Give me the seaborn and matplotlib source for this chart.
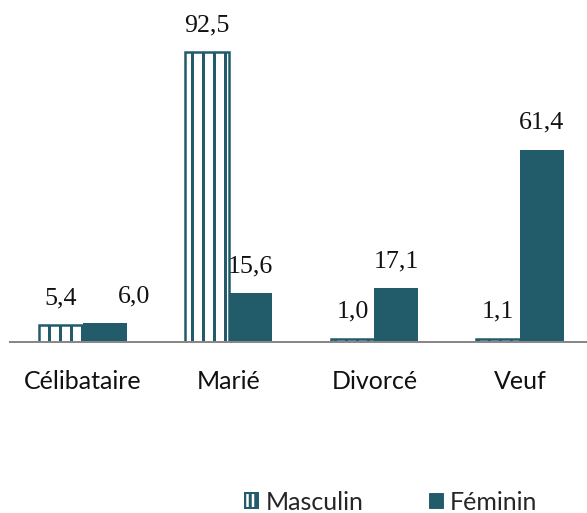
import seaborn as sns
import pandas as pd
import matplotlib.pyplot as plt
from matplotlib.patches import Patch

categories = ['Célibataire', 'Marié', 'Divorcé', 'Veuf']
masculin = [5.4, 92.5, 1.0, 1.1]
feminin = [6.0, 15.6, 17.1, 61.4]
series = ['Masculin', 'Féminin']

DPI = 66
def pt(px):
    return px * 72 / DPI

teal = '#225B69'
data = pd.DataFrame({
    'Statut': categories * 2,
    'Sexe': ['Masculin'] * 4 + ['Féminin'] * 4,
    'Valeur': masculin + feminin,
})

sns.set_style('white')
plt.rcParams['hatch.color'] = teal
plt.rcParams['hatch.linewidth'] = pt(3)

fig = plt.figure(figsize=(587 / DPI, 513 / DPI), dpi=DPI)
ax = fig.add_axes([10 / 587, 171 / 513, 583 / 587, 313 / 513])

sns.barplot(data=data, x='Statut', y='Valeur', hue='Sexe', hue_order=series,
            palette={'Masculin': 'white', 'Féminin': teal}, width=0.6,
            saturation=1, dodge=True, legend=False, ax=ax)

for bar in ax.containers[0]:
    bar.set_hatch('|')
    bar.set_edgecolor(teal)
    bar.set_linewidth(pt(2.5))
for bar in ax.containers[1]:
    bar.set_edgecolor(teal)
    bar.set_linewidth(0)

# petits décalages des étiquettes (comme dans Excel)
nudge = {(1, 0): 29}
for si, cont in enumerate(ax.containers):
    for ci, bar in enumerate(cont):
        v = bar.get_height()
        ax.annotate(f'{v:.1f}'.replace('.', ','),
                    (bar.get_x() + bar.get_width() / 2, v),
                    xytext=(pt(nudge.get((si, ci), 0)), pt(16)),
                    textcoords='offset points', ha='center', va='bottom',
                    fontsize=pt(26), family='Liberation Serif', color='#111111')

ax.set_ylim(0, 100)
ax.set_xlim(-0.5, 3.5)
ax.set_xlabel('')
ax.set_ylabel('')
ax.set_yticks([])
ax.tick_params(axis='x', length=0, pad=pt(28))
for lab in ax.get_xticklabels():
    lab.set_family('Lato')
    lab.set_fontsize(pt(25))
    lab.set_color('#111111')
for s in ['top', 'right', 'left']:
    ax.spines[s].set_visible(False)
ax.spines['bottom'].set_color('#888888')
ax.spines['bottom'].set_linewidth(pt(2))

handles = [Patch(facecolor='white', edgecolor=teal, hatch='||', linewidth=pt(2)),
           Patch(facecolor=teal, edgecolor=teal)]
fig.legend(handles, series, loc='center', bbox_to_anchor=(391 / 587, 1 - 502 / 513),
           ncol=2, frameon=False, handlelength=0.55, handleheight=0.55,
           handletextpad=0.3, columnspacing=2.6,
           prop={'family': 'Lato', 'size': pt(25)})

fig.savefig('out.png', dpi=DPI)
